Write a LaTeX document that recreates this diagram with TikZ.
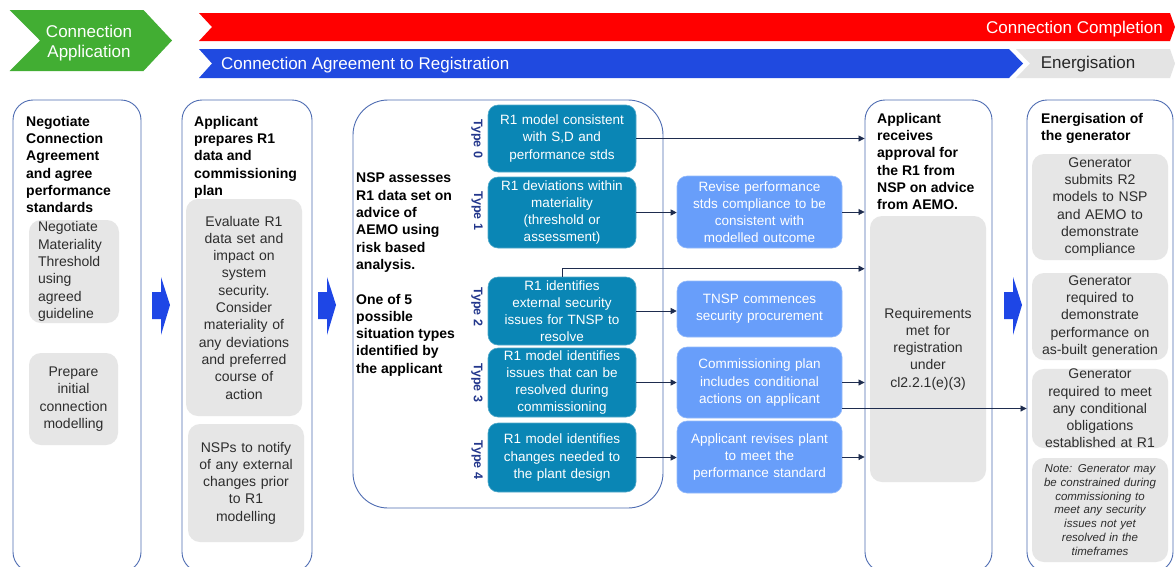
\documentclass[tikz,border=0pt]{standalone}
\usepackage{fontspec}
\setmainfont{Liberation Sans}
\usetikzlibrary{arrows.meta,calc}
\definecolor{cgreen}{RGB}{66,174,51}
\definecolor{cred}{RGB}{255,0,0}
\definecolor{cblue}{RGB}{32,74,224}
\definecolor{cenerg}{RGB}{228,228,228}
\definecolor{cborder}{RGB}{78,108,178}
\definecolor{cgrey}{RGB}{230,230,230}
\definecolor{cteal}{RGB}{10,134,181}
\definecolor{clblue}{RGB}{104,158,250}
\definecolor{ctype}{RGB}{35,55,140}
\definecolor{carrow}{RGB}{30,70,230}
\definecolor{cline}{RGB}{30,44,78}
\definecolor{ctext}{RGB}{45,45,45}
\begin{document}
\begin{tikzpicture}[x=1pt,y=-1pt,
  colbox/.style={draw=cborder, line width=0.9pt, rounded corners=20pt, inner sep=0pt},
  gbox/.style={fill=cgrey, rounded corners=12pt, align=center, inner xsep=2pt, inner ysep=0pt, text=ctext, font=\fontsize{14}{17.3}\selectfont},
  tbox/.style={fill=cteal, draw=cteal!70!white, line width=0.6pt, rounded corners=10pt, align=center, text=white, inner xsep=2pt, inner ysep=0pt, font=\fontsize{13.5}{17.2}\selectfont, minimum width=148pt, text width=144pt},
  lbox/.style={fill=clblue, draw=clblue!70!white, line width=0.6pt, rounded corners=10pt, align=center, text=white, inner xsep=2pt, inner ysep=0pt, font=\fontsize{13.5}{17.2}\selectfont, minimum width=165pt, text width=161pt},
  coltitle/.style={anchor=north west, align=left, inner sep=0pt, text=black, font=\bfseries\fontsize{14}{17.3}\selectfont},
  typelab/.style={rotate=-90, inner sep=0pt, text=ctype, font=\bfseries\fontsize{12.5}{14}\selectfont},
  banner/.style={text=white, inner sep=0pt, font=\fontsize{17}{20}\selectfont},
  conn/.style={draw=cline, line width=0.8pt, -{Triangle[length=6pt,width=6pt]}},
  blockarrow/.style={fill=carrow}
]
\useasboundingbox (0,0) rectangle (1175,566);
\clip (0,0) rectangle (1175,566);
\fill[white] (0,0) rectangle (1175,566);

% ---- banners ----
\fill[cgreen] (9.6,10) -- (143.5,10) -- (172,40.5) -- (143.5,71) -- (9.6,71) -- (40,40.5) -- cycle;
\node[banner, align=center] (bapp) at (89,43) {Connection\\Application};
\fill[cred] (199,13) -- (1170,13) -- (1175,27) -- (1170,41) -- (199,41) -- (212,27) -- cycle;
\node[banner, anchor=east] (bcomp) at (1163,29.5) {Connection Completion};
\fill[cblue] (199,49) -- (1009,49) -- (1023,63.5) -- (1009,78) -- (199,78) -- (212,63.5) -- cycle;
\node[banner, anchor=west] (bagr) at (221,65.5) {Connection Agreement to Registration};
\fill[cenerg] (1016,49) -- (1170,49) -- (1175,63.5) -- (1170,78) -- (1016,78) -- (1030,63.5) -- cycle;
\node[banner, text=black!85] (benerg) at (1088,64.5) {Energisation};

% ---- columns ----
\node[colbox, minimum width=128pt, minimum height=472pt] (col1) at (77,336) {};
\node[colbox, minimum width=130pt, minimum height=472pt] (col2) at (247,336) {};
\node[colbox, rounded corners=35pt, minimum width=310pt, minimum height=408pt] (col3) at (508,304) {};
\node[colbox, minimum width=127pt, minimum height=472pt] (col4) at (928.5,336) {};
\node[colbox, minimum width=146pt, minimum height=472pt] (col5) at (1100,336) {};

% ---- block arrows ----
\fill[blockarrow] (152,292) -- (161,292) -- (161,277) -- (170,305) -- (161,335) -- (161,319) -- (152,319) -- cycle;
\fill[blockarrow] (318,292) -- (327,292) -- (327,277) -- (336,305) -- (327,335) -- (327,319) -- (318,319) -- cycle;
\fill[blockarrow] (1004,292) -- (1013,292) -- (1013,277) -- (1022,305) -- (1013,335) -- (1013,319) -- (1004,319) -- cycle;

% ---- column 1 ----
\node[coltitle] (h1) at (26,116) {Negotiate\\Connection\\Agreement\\and agree\\performance\\standards};
\node[gbox, align=left, minimum width=90pt, minimum height=103pt, text width=72pt] (g11) at (74,271.5) {Negotiate\\Materiality\\Threshold\\using\\agreed\\guideline};
\node[gbox, minimum width=89pt, minimum height=92pt, text width=85pt] (g12) at (73.5,399) {Prepare\\initial\\connection\\modelling};

% ---- column 2 ----
\node[coltitle] (h2) at (194,116) {Applicant\\prepares R1\\data and\\commissioning\\plan};
\node[gbox, minimum width=116pt, minimum height=217pt, text width=112pt] (g21) at (244,307.5) {Evaluate R1\\data set and\\impact on\\system\\security.\\Consider\\materiality of\\any deviations\\and preferred\\course of\\action};
\node[gbox, minimum width=116pt, minimum height=118pt, text width=112pt] (g22) at (246,483) {NSPs to notify\\of any external\\changes prior\\to R1\\modelling};

% ---- column 3 ----
\node[coltitle] (h3) at (356,173) {NSP assesses\\R1 data set on\\advice of\\AEMO using\\risk based\\analysis.\\[17.3pt]One of 5\\possible\\situation types\\identified by\\the applicant};
\node[tbox, minimum height=67pt] (t0) at (562,138.5) {R1 model consistent\\with S,D and\\performance stds};
\node[tbox, minimum height=71pt] (t1) at (562,212.5) {R1 deviations within\\materiality\\(threshold or\\assessment)};
\node[tbox, minimum height=68pt] (t2) at (562,311) {R1 identifies\\external security\\issues for TNSP to\\resolve};
\node[tbox, minimum height=69pt] (t3) at (562,382.5) {R1 model identifies\\issues that can be\\resolved during\\commissioning};
\node[tbox, minimum height=69pt] (t4) at (562,457.5) {R1 model identifies\\changes needed to\\the plant design};
\node[typelab] (ty0) at (477,139) {Type 0};
\node[typelab] (ty1) at (477,211) {Type 1};
\node[typelab] (ty2) at (477,307) {Type 2};
\node[typelab] (ty3) at (477,383) {Type 3};
\node[typelab] (ty4) at (477,460) {Type 4};

% ---- light blue actions ----
\node[lbox, minimum height=72pt] (l1) at (759.5,212) {Revise performance\\stds compliance to be\\consistent with\\modelled outcome};
\node[lbox, minimum height=56pt] (l2) at (759.5,309) {TNSP commences\\security procurement};
\node[lbox, minimum height=71pt] (l3) at (759.5,382.5) {Commissioning plan\\includes conditional\\actions on applicant};
\node[lbox, minimum height=72pt] (l4) at (759.5,457) {Applicant revises plant\\to meet the\\performance standard};

% ---- column 4 ----
\node[coltitle] (h4) at (877,113) {Applicant\\receives\\approval for\\the R1 from\\NSP on advice\\from AEMO.};
\node[gbox, minimum width=116pt, minimum height=266pt, text width=112pt] (g41) at (928,349) {Requirements\\met for\\registration\\under\\cl2.2.1(e)(3)};

% ---- column 5 ----
\node[coltitle] (h5) at (1041,113) {Energisation of\\the generator};
\node[gbox, minimum width=136pt, minimum height=106pt, text width=132pt] (g51) at (1100,207) {Generator\\submits R2\\models to NSP\\and AEMO to\\demonstrate\\compliance};
\node[gbox, minimum width=136pt, minimum height=87pt, text width=132pt] (g52) at (1100,316.5) {Generator\\required to\\demonstrate\\performance on\\as-built generation};
\node[gbox, minimum width=136pt, minimum height=79pt, text width=132pt] (g53) at (1100,408.5) {Generator\\required to meet\\any conditional\\obligations\\established at R1};
\node[gbox, minimum width=136pt, minimum height=104pt, text width=132pt, font=\itshape\fontsize{11.5}{13.7}\selectfont] (g54) at (1100,510) {Note: Generator may\\be constrained during\\commissioning to\\meet any security\\issues not yet\\resolved in the\\timeframes};

% ---- connectors ----
\draw[conn] (t0.east) -- (t0.east -| col4.west);
\draw[conn] (t1.east) -- (t1.east -| l1.west);
\draw[conn] (l1.east) -- (l1.east -| col4.west);
\coordinate (k2) at ($(t2.north)+(0,-8)$);
\draw[conn] (t2.north) -- (k2) -- (k2 -| col4.west);
\draw[conn] (t2.east) -- (t2.east -| l2.west);
\draw[conn] (t3.east) -- (t3.east -| l3.west);
\draw[conn] (l3.east) -- (l3.east -| col4.west);
\coordinate (k3) at ($(l3.east)+(0,26)$);
\draw[conn] (k3) -- (k3 -| col5.west);
\draw[conn] (t4.east) -- (t4.east -| l4.west);
\draw[conn] (l4.east) -- (l4.east -| col4.west);
\end{tikzpicture}
\end{document}
